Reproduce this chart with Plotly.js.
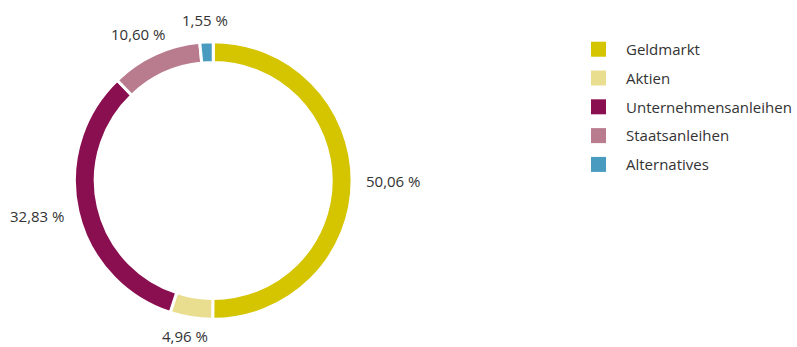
<!DOCTYPE html>
<html>
<head>
<meta charset="utf-8">
<script src="https://cdn.plot.ly/plotly-3.0.1.min.js"></script>
<style>html,body{margin:0;padding:0;background:#fff;}#chart{width:797px;height:347px;}</style>
</head>
<body>
<div id="chart"></div>
<script>
const categories = ["Geldmarkt", "Aktien", "Unternehmensanleihen", "Staatsanleihen", "Alternatives"];
const shares = [50.06, 4.96, 32.83, 10.60, 1.55];
const colors = ["#d5c400", "#e9de8f", "#8a0f50", "#b97c8f", "#4a9bc0"];

const W = 797, H = 347;
const FONT = "Open Sans, sans-serif";
const FS = 15;
const pieDomain = { x: [0.0935, 0.4423], y: [0.0793, 0.8804] };

const pie = {
  type: "pie",
  labels: categories,
  values: shares,
  sort: false,
  direction: "clockwise",
  rotation: 0,
  hole: 0.85,
  marker: { colors: colors, line: { color: "#ffffff", width: 3 } },
  textinfo: "none",
  showlegend: false,
  domain: pieDomain,
  hoverinfo: "label+value"
};

const legendTraces = categories.map((c, i) => ({
  type: "scatter",
  mode: "markers",
  x: [null], y: [null],
  name: c,
  legendgroup: "g" + i,
  marker: { symbol: "square", size: 15, color: colors[i] },
  showlegend: true,
  hoverinfo: "skip"
}));

// outside percentage labels, placed along each slice's mid-angle
const total = shares.reduce((a, b) => a + b, 0);
const cx = 0.5 * (pieDomain.x[0] + pieDomain.x[1]) * W;
const cy = (1 - 0.5 * (pieDomain.y[0] + pieDomain.y[1])) * H;
const R = Math.min((pieDomain.x[1] - pieDomain.x[0]) * W, (pieDomain.y[1] - pieDomain.y[0]) * H) / 2;
const ctx = document.createElement("canvas").getContext("2d");
ctx.font = FS + "px 'Open Sans'";
let cum = 0;
const annotations = shares.map((v) => {
  const mid = (cum + v / 2) / total * 2 * Math.PI;
  cum += v;
  const txt = v.toFixed(2).replace(".", ",") + " %";
  const hw = ctx.measureText(txt).width / 2;
  const dx = Math.sin(mid), dy = -Math.cos(mid);
  const hh = dy > 0 ? 5 : 8;
  const r = R + 14;
  const px = cx + r * dx + dx * hw;
  const py = cy + r * dy + dy * hh;
  return {
    xref: "paper", yref: "paper",
    x: px / W, y: 1 - py / H,
    xanchor: "center", yanchor: "middle",
    text: txt, showarrow: false,
    font: { family: FONT, size: FS, color: "#333333" }
  };
});

const layout = {
  width: W, height: H,
  margin: { l: 0, r: 0, t: 0, b: 0 },
  paper_bgcolor: "#ffffff",
  plot_bgcolor: "#ffffff",
  xaxis: { visible: false },
  yaxis: { visible: false },
  showlegend: true,
  annotations: annotations,
  legend: {
    x: 0.717, xanchor: "left",
    y: 0.905, yanchor: "top",
    tracegroupgap: 6.3,
    itemwidth: 45,
    font: { family: FONT, size: FS, color: "#333333" },
    bgcolor: "rgba(0,0,0,0)"
  }
};

Plotly.newPlot("chart", [pie, ...legendTraces], layout, { displayModeBar: false, staticPlot: true });
</script>
</body>
</html>
